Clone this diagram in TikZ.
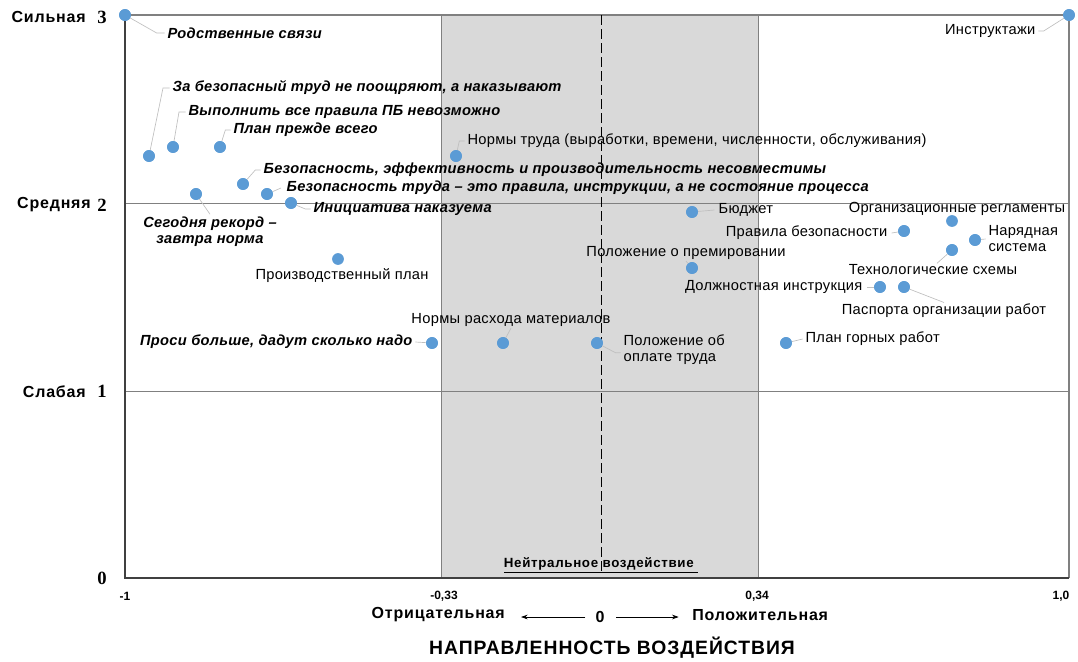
\documentclass[tikz,border=0pt]{standalone}
\usepackage{fontspec}
\setmainfont{Liberation Sans}
\newfontfamily\numfont{Liberation Serif}
\newfontfamily\labfont[LetterSpace=2]{Liberation Sans}
\newfontfamily\axfont[LetterSpace=5]{Liberation Sans}
\usetikzlibrary{arrows.meta}
\definecolor{ptblue}{HTML}{5B9BD5}
\definecolor{bandgray}{HTML}{D9D9D9}
\definecolor{leadgray}{HTML}{BFBFBF}
\definecolor{linegray}{HTML}{808080}
\definecolor{axisgray}{HTML}{404040}

\begin{document}
\begin{tikzpicture}[x=0.75pt,y=-0.75pt,
  pt/.style={circle,fill=ptblue,inner sep=0pt,minimum size=8.8pt},
  lab/.style={inner sep=1pt,font=\labfont\fontsize{11}{12}\selectfont},
  labbi/.style={inner sep=1pt,font=\labfont\fontsize{11}{12}\selectfont\bfseries\itshape},
  lead/.style={draw=leadgray,line width=0.5pt},
  gridln/.style={draw=linegray,line width=0.6pt},
  axlab/.style={anchor=east,inner sep=0pt,font=\axfont\fontsize{12}{13}\selectfont\bfseries},
  axnum/.style={inner sep=0pt,font=\numfont\fontsize{14}{14}\selectfont\bfseries},
  ticklab/.style={inner sep=0pt,font=\fontsize{9}{10}\selectfont\bfseries},
  dirlab/.style={inner sep=0pt,font=\axfont\fontsize{12}{13}\selectfont\bfseries},
  arr/.style={-{Stealth[length=5pt,width=3.5pt]},line width=0.5pt}]
\useasboundingbox (0,0) rectangle (1078,661);

% neutral band and grid
\fill[bandgray] (441,15) rectangle (758,578);
\draw[gridln] (125,203) -- (1069,203) (125,391) -- (1069,391);
\draw[gridln] (441,15) -- (441,578) (758,15) -- (758,578);
\draw[draw=linegray,line width=0.8pt] (125,15) -- (1069,15) -- (1069,578);
\draw[draw=axisgray,line width=0.9pt] (125,15) -- (125,578) -- (1069,578);
\draw[dash pattern=on 7.5pt off 3pt,line width=0.7pt] (601,15) -- (601,572);

% points
\node[pt] (p1) at (125,15) {};
\node[pt] (p2) at (1069,15) {};
\node[pt] (p3) at (149,156) {};
\node[pt] (p4) at (173,147) {};
\node[pt] (p5) at (220,147) {};
\node[pt] (p6) at (456,156) {};
\node[pt] (p7) at (243,184) {};
\node[pt] (p8) at (267,194) {};
\node[pt] (p9) at (196,194) {};
\node[pt] (p10) at (291,203) {};
\node[pt] (p11) at (338,259) {};
\node[pt] (p12) at (432,343) {};
\node[pt] (p13) at (503,343) {};
\node[pt] (p14) at (597,343) {};
\node[pt] (p15) at (692,212) {};
\node[pt] (p16) at (692,268) {};
\node[pt] (p17) at (952,221) {};
\node[pt] (p18) at (904,231) {};
\node[pt] (p19) at (975,240) {};
\node[pt] (p20) at (952,250) {};
\node[pt] (p21) at (880,287) {};
\node[pt] (p22) at (904,287) {};
\node[pt] (p23) at (786,343) {};

% labels
\node[labbi,anchor=west] (l1) at (166,33) {Родственные связи};
\node[lab,anchor=east] (l2) at (1037,31) {Инструктажи};
\node[labbi,anchor=west] (l3) at (171,88) {За безопасный труд не поощряют, а наказывают};
\node[labbi,anchor=west] (l4) at (187,112) {Выполнить все правила ПБ невозможно};
\node[labbi,anchor=west] (l5) at (232,130) {План прежде всего};
\node[lab,anchor=west] (l6) at (466,141) {Нормы труда (выработки, времени, численности, обслуживания)};
\node[labbi,anchor=west] (l7) at (262,170) {Безопасность, эффективность и производительность несовместимы};
\node[labbi,anchor=west] (l8) at (285,188) {Безопасность труда – это правила, инструкции, а не состояние процесса};
\node[labbi,align=center] (l9) at (210,232) {Сегодня рекорд –\\завтра норма};
\node[labbi,anchor=west] (l10) at (312,209) {Инициатива наказуема};
\node[lab] (l11) at (342,276) {Производственный план};
\node[labbi,anchor=east] (l12) at (414,342) {Проси больше, дадут сколько надо};
\node[lab] (l13) at (511,320) {Нормы расхода материалов};
\node[lab,anchor=west,align=left] (l14) at (622,350) {Положение об\\оплате труда};
\node[lab,anchor=west] (l15) at (717,210) {Бюджет};
\node[lab] (l16) at (686,253) {Положение о премировании};
\node[lab] (l17) at (957,209) {Организационные регламенты};
\node[lab,anchor=east] (l18) at (889,233) {Правила безопасности};
\node[lab,anchor=west,align=left] (l19) at (987,239) {Нарядная\\система};
\node[lab] (l20) at (933,270) {Технологические схемы};
\node[lab,anchor=east] (l21) at (864,287) {Должностная инструкция};
\node[lab] (l22) at (944,311) {Паспорта организации работ};
\node[lab,anchor=west] (l23) at (804,339) {План горных работ};

% leader lines
\draw[lead] (p1) -- ([xshift=-7pt]l1.west) -- ([xshift=-1pt]l1.west);
\draw[lead] (p2) -- ([xshift=5pt]l2.east) -- ([xshift=1pt]l2.east);
\draw[lead] (p3) -- ([xshift=-6pt]l3.west) -- ([xshift=-1pt]l3.west);
\draw[lead] (p4) -- ([xshift=-6pt]l4.west) -- ([xshift=-1pt]l4.west);
\draw[lead] (p5) -- ([xshift=-5pt]l5.west) -- ([xshift=-1pt]l5.west);
\draw[lead] (p6) -- ([xshift=-5pt]l6.west) -- ([xshift=-1pt]l6.west);
\draw[lead] (p7) -- ([xshift=-5pt]l7.west) -- ([xshift=-1pt]l7.west);
\draw[lead] (p8) -- ([xshift=-3pt]l8.west);
\draw[lead] (p9) -- ([yshift=1pt]l9.north);
\draw[lead] (p10) -- ([xshift=-5pt]l10.west) -- ([xshift=-1pt]l10.west);
\draw[lead] (p12) -- ([xshift=1pt]l12.east);
\draw[lead] (p13) -- (l13.south);
\draw[lead] (p14) -- ([xshift=-5pt,yshift=-2pt]l14.west) -- ([xshift=-1pt,yshift=-2pt]l14.west);
\draw[lead] (p15) -- ([xshift=-2pt]l15.west);
\draw[lead] (p16) -- (l16.south);
\draw[lead] (p18) -- ([xshift=2pt]l18.east);
\draw[lead] (p19) -- ([xshift=-1pt]l19.west);
\draw[lead] (p20) -- ([xshift=3pt]l20.north);
\draw[lead] (p21) -- ([xshift=2pt]l21.east);
\draw[lead] (p22) -- (l22.north);
\draw[lead] (p23) -- ([xshift=-1pt]l23.west);

% redraw points over leaders
\foreach \p in {p1,p2,p3,p4,p5,p6,p7,p8,p9,p10,p12,p13,p14,p15,p16,p18,p19,p20,p21,p22,p23}
  \fill[ptblue] (\p) circle (4.4pt);

% vertical axis
\node[axlab] (ys) at (86,17) {Сильная};
\node[axnum] (n3) at (102,17) {3};
\node[axlab] (ym) at (91,205) {Средняя};
\node[axnum] (n2) at (102,205) {2};
\node[axlab] (yw) at (86,392) {Слабая};
\node[axnum] (n1) at (102,391) {1};
\node[axnum] (n0) at (102,578) {0};

% horizontal axis
\node[ticklab] (t1) at (125,596) {-1};
\node[ticklab] (t2) at (444,596) {-0,33};
\node[ticklab] (t3) at (757,596) {0,34};
\node[ticklab] (t4) at (1061,596) {1,0};
\node[inner sep=0pt,font=\axfont\fontsize{10}{11}\selectfont\bfseries] (neutral) at (601,565) {\underline{Нейтральное воздействие\ }};
\node[dirlab] (zero) at (600,617) {0};
\node[dirlab,anchor=east] (neg) at (505,615) {Отрицательная};
\node[dirlab,anchor=west] (pos) at (692,615) {Положительная};
\draw[arr,shorten <=11pt,shorten >=12pt] (zero.center) -- (neg.east |- zero.center);
\draw[arr,shorten <=12pt,shorten >=10pt] (zero.center) -- (pos.west |- zero.center);
\node[inner sep=0pt,font=\axfont\fontsize{14.5}{16}\selectfont\bfseries] (title) at (612,648) {НАПРАВЛЕННОСТЬ ВОЗДЕЙСТВИЯ};
\end{tikzpicture}
\end{document}
